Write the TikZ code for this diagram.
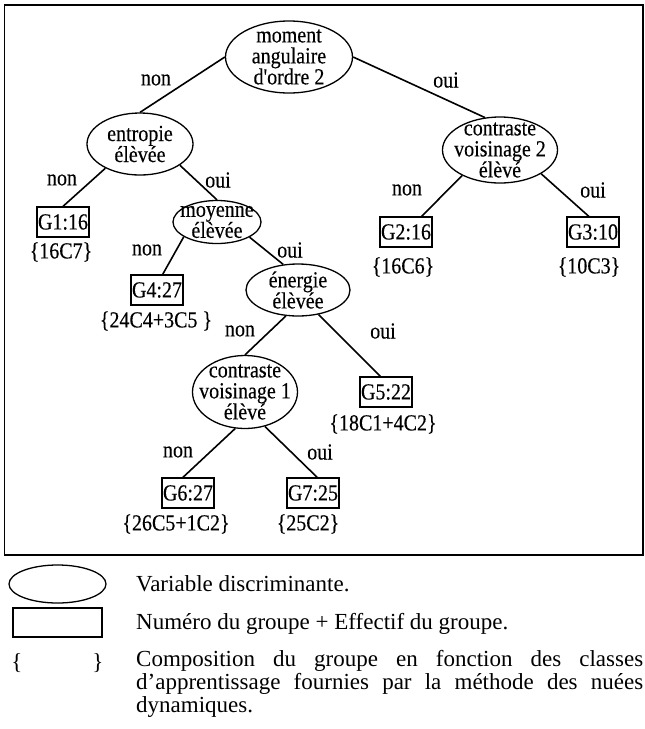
\documentclass[tikz,border=0pt]{standalone}
\usepackage{fontspec}
\setmainfont{Liberation Serif}
\newfontfamily\arbrefont{Liberation Serif}[FakeStretch=0.87, FakeBold=0.3]
\usepackage{tikz}
\usetikzlibrary{shapes.geometric, positioning}

\tikzset{
  arbre/.style={font=\arbrefont\fontsize{23}{21}\selectfont, align=center, inner sep=0pt},
  discr/.style={draw, ellipse, line width=1.3pt, inner sep=0pt},
  groupe/.style={arbre, draw, rectangle, line width=1.3pt, inner xsep=1pt, inner ysep=0pt, minimum height=30pt},
  branche/.style={line width=1.6pt},
  legende/.style={font=\fontsize{23}{23}\selectfont, inner sep=0pt}
}

\begin{document}
\begin{tikzpicture}[x=1pt, y=-1pt] % 1 pt = 1 pixel

            \useasboundingbox (0,0) rectangle (645,729); % Cadre de la page
            \draw[line width=1.5pt] (4.5,5) rectangle (643,555); % Cadre de l'arbre

            % Variables discriminantes
            \node[discr, minimum width=127pt, minimum height=72pt, label={[arbre]center:moment\\angulaire\\d'ordre 2}] (moment) at (289,57) {};
            \node[discr, minimum width=106pt, minimum height=62pt, label={[arbre]center:entropie\\élèvée}] (entropie) at (140,144) {};
            \node[discr, minimum width=115pt, minimum height=66pt, label={[arbre]center:contraste\\voisinage 2\\élèvé}] (voisin2) at (500,150) {};
            \node[discr, minimum width=88pt, minimum height=43pt, label={[arbre]center:moyenne\\élèvée}] (moyenne) at (217,222) {};
            \node[discr, minimum width=104pt, minimum height=52pt, label={[arbre]center:énergie\\élèvée}] (energie) at (298,290) {};
            \node[discr, minimum width=105pt, minimum height=73pt, label={[arbre]center:contraste\\voisinage 1\\élèvé}] (voisin1) at (245,392) {};

            % Groupes
            \node[groupe] (g1) at (63,222) {G1:16};
            \node[groupe] (g2) at (406,232) {G2:16};
            \node[groupe] (g3) at (593,232) {G3:10};
            \node[groupe] (g4) at (157,290) {G4:27};
            \node[groupe] (g5) at (386,392) {G5:22};
            \node[groupe] (g6) at (188,493) {G6:27};
            \node[groupe] (g7) at (313,493) {G7:25};

            % Composition des groupes
            \node[arbre] (k1) at (61,252) {\{16C7\}};
            \node[arbre] (k2) at (403,267) {\{16C6\}};
            \node[arbre] (k3) at (589,267) {\{10C3\}};
            \node[arbre] (k4) at (156,321) {\{24C4+3C5 \}};
            \node[arbre] (k5) at (383,424) {\{18C1+4C2\}};
            \node[arbre] (k6) at (176,524) {\{26C5+1C2\}};
            \node[arbre] (k7) at (308,524) {\{25C2\}};

            % Branches
            \draw[branche] (moment.west) -- (entropie.north);
            \draw[branche] (moment.east) -- (voisin2.115);
            \draw[branche] (entropie.215) -- (g1.north);
            \draw[branche] (entropie.-28) -- (moyenne.north);
            \draw[branche] (voisin2.214) -- (g2.45);
            \draw[branche] (voisin2.-30) -- (g3.105);
            \draw[branche] (moyenne.204) -- (g4.70);
            \draw[branche] (moyenne.-25) -- (energie.120);
            \draw[branche] (energie.245) -- (voisin1.north);
            \draw[branche] (energie.-50) -- (g5.110);
            \draw[branche] (voisin1.255) -- (g6.108);
            \draw[branche] (voisin1.-60) -- (g7.75);

            % Reponses non / oui
            \node[arbre] (n1) at (156,80) {non};
            \node[arbre] (o1) at (446,80) {oui};
            \node[arbre] (n2) at (62,180) {non};
            \node[arbre] (o2) at (218,180) {oui};
            \node[arbre] (n3) at (407,190) {non};
            \node[arbre] (o3) at (593,190) {oui};
            \node[arbre] (n4) at (147,250) {non};
            \node[arbre] (o4) at (290,250) {oui};
            \node[arbre] (n5) at (240,331) {non};
            \node[arbre] (o5) at (383,331) {oui};
            \node[arbre] (n6) at (178,452) {non};
            \node[arbre] (o6) at (320,452) {oui};

            % Legende
            \node[discr, minimum width=97pt, minimum height=38pt] (lvar) at (57.5,584) {};
            \node[draw, line width=1.3pt, minimum width=89pt, minimum height=29pt] (lgrp) at (57.5,622.5) {};
            \node[legende] (lacc1) at (17,663) {\{};
            \node[legende] (lacc2) at (98,663) {\}};
            \node[legende, anchor=base west] (t1) at (136,591) {Variable discriminante.};
            \node[legende, anchor=base west] (t2) at (136,629) {Numéro du groupe + Effectif du groupe.};
            \node[legende, anchor=base west, text width=507pt, align=justify] (t3) at (136,666) {Composition du groupe en fonction des classes d'apprentissage fournies par la méthode des nuées \mbox{dynamiques.}};

\end{tikzpicture}
\end{document}
